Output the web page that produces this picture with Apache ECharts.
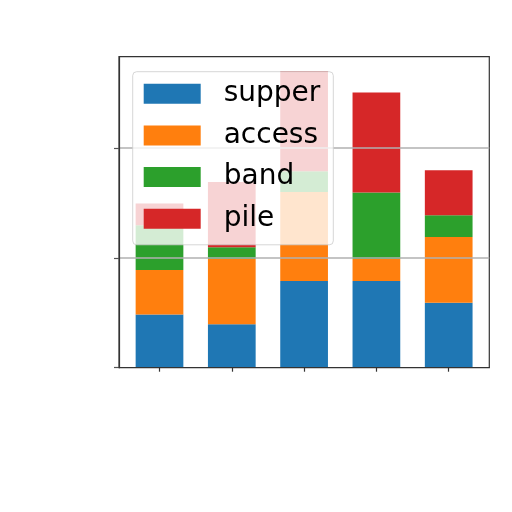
<!DOCTYPE html>
<html>
<head>
<meta charset="utf-8">
<script src="https://cdn.jsdelivr.net/npm/echarts@6/dist/echarts.min.js"></script>
<style>html,body{margin:0;padding:0;background:#fff;}#c{width:512px;height:512px;}</style>
</head>
<body>
<div id="c"></div>
<script>
var categories = ['A', 'B', 'C', 'D', 'E'];
var supper = [4.85, 3.95, 7.88, 7.88, 5.9];
var access = [4.03, 5.93, 8.1, 2.0, 6.0];
var band = [4.09, 1.07, 1.9, 6.07, 1.98];
var pile = [1.98, 5.95, 9.1, 9.09, 4.09];
var yTicks = [0, 10, 20];
var names = ['supper', 'access', 'band', 'pile'];
var colors = ['#1f77b4', '#ff7f0e', '#2ca02c', '#d62728'];
var values = [supper, access, band, pile];
var yMax = 28.3;

var chart = echarts.init(document.getElementById('c'), null, {renderer: 'canvas'});
var series = values.map(function (arr, k) {
  return {
    name: names[k],
    type: 'bar',
    stack: 'total',
    xAxisIndex: 0,
    yAxisIndex: 0,
    barWidth: '66%',
    itemStyle: {color: colors[k]},
    data: arr
  };
});
chart.setOption({
  animation: false,
  color: colors,
  grid: [
    {left: 123.35, right: 27.15, top: 56.7, bottom: 144.3, show: false},
    {left: 119, right: 22.7, top: 56.7, bottom: 144.3, show: true, borderColor: '#333', borderWidth: 1.2, backgroundColor: 'transparent'}
  ],
  xAxis: [
    {
      type: 'category', gridIndex: 0, data: categories, z: 6,
      axisLine: {show: false},
      axisTick: {show: true, alignWithLabel: true, interval: 0, length: 4, lineStyle: {color: '#333', width: 1.2}},
      axisLabel: {show: false},
      splitLine: {show: false}
    },
    {
      type: 'value', gridIndex: 1, min: 0, max: 1, z: 6,
      axisLine: {show: true, onZero: false, lineStyle: {color: '#333', width: 1.2}},
      axisTick: {show: false},
      axisLabel: {show: false},
      splitLine: {show: false}
    }
  ],
  yAxis: [
    {
      type: 'value', gridIndex: 0, min: 0, max: yMax, show: false,
      splitLine: {show: false}
    },
    {
      type: 'value', gridIndex: 1, min: 0, max: yMax, interval: 10, z: 3,
      axisLine: {show: true, onZero: false, lineStyle: {color: '#333', width: 1.2}},
      axisTick: {show: true, customValues: yTicks, length: 5, lineStyle: {color: '#555', width: 1.2}},
      axisLabel: {show: false},
      splitLine: {show: true, showMinLine: false, showMaxLine: true, lineStyle: {color: '#b0b0b0', width: 1.6}}
    }
  ],
  legend: {
    show: true, z: 10,
    left: 132.7, top: 71.7,
    orient: 'vertical',
    icon: 'rect',
    itemWidth: 57, itemHeight: 20, itemGap: 13.7,
    padding: [8, 13, 12, 11],
    backgroundColor: 'rgba(255,255,255,0.8)',
    borderColor: 'rgba(204,204,204,0.8)', borderWidth: 1, borderRadius: 4,
    textStyle: {fontFamily: 'DejaVu Sans', fontSize: 28, lineHeight: 28, color: '#000', padding: [0, 0, 0, 18]},
    data: names
  },
  series: series
});
</script>
</body>
</html>
